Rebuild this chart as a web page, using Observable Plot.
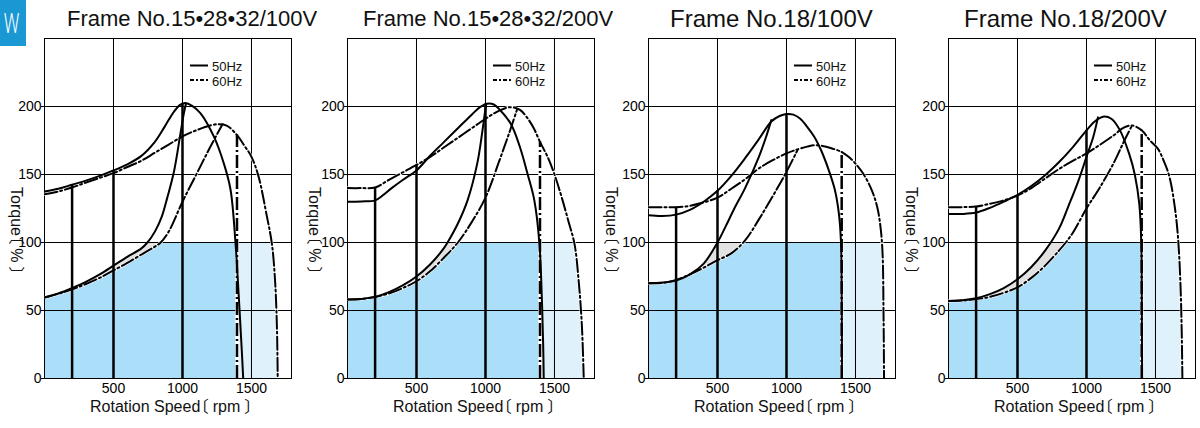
<!DOCTYPE html>
<html>
<head>
<meta charset="utf-8">
<script src="https://cdn.jsdelivr.net/npm/d3@7"></script>
<script src="https://cdn.jsdelivr.net/npm/@observablehq/plot@0.6"></script>
<style>
  html, body { margin: 0; padding: 0; background: #fff; }
  #root { position: relative; width: 1200px; height: 428px; overflow: hidden; background: #fff; }
  .panel { position: absolute; top: 0; }
  #overlay { position: absolute; left: 0; top: 0; pointer-events: none; }
  .axlabel { font-family: 'Liberation Sans', 'Noto Sans CJK JP', Arial, sans-serif; font-feature-settings: "palt" 1; }
</style>
</head>
<body>
<div id="root"></div>
<script>
// ---------- data ----------
const titles = ["Frame No.15\u202228\u202232/100V", "Frame No.15\u202228\u202232/200V", "Frame No.18/100V", "Frame No.18/200V"];
const badgeText = "W";
const xLabel = "Rotation Speed\u3014 rpm \u3015";
const yLabel = "Torque\u3014 % \u3015";
const legendLabels = ["50Hz", "60Hz"];
const xTicks = [500, 1000, 1500];
const yTicks = [0, 50, 100, 150, 200];
const gridY = [50, 100, 150, 200];
const xMax = 1790, yMax = 250, ratedTorque = 100;

// Panel 1 : Frame No.15・28・32/100V   [rpm, torque %]
const p1Up50 = [[0,137.5],[100,139.5],[200,142.5],[300,145.5],[400,149],[500,153],[600,157.5],[700,163.5],[800,174],[870,185],[930,195],[980,201],[1020,202.5],[1070,200.5],[1131,195],[1227,178],[1300,158],[1348,139],[1384,100],[1408,60],[1430,20],[1440,0]];
const p1Up60 = [[0,135.5],[100,137.5],[200,140.5],[300,144],[400,147.5],[500,151],[600,155.5],[700,160],[800,166],[900,172],[1000,178],[1100,182.5],[1200,186],[1260,187],[1320,186],[1395,179],[1450,171],[1500,163],[1550,149],[1612,119],[1648,99],[1672,70],[1685,35],[1690,0]];
const p1Lo50 = [[0,59.5],[100,62.5],[200,66.5],[300,71],[400,76.5],[500,83],[600,89.5],[700,95.5],[746,100],[800,108],[850,119],[890,133],[940,153],[985,180],[1010,195],[1025,202]];
const p1Lo60 = [[0,59.5],[100,62.3],[200,65.5],[300,69.5],[400,74],[500,79.5],[600,85],[700,91],[800,97],[842,100],[900,108],[1000,130],[1100,150],[1200,170],[1290,187]];
const p1Speeds = [200, 500, 1000, 1395];
const p1Tops = [142.5, 153, 202, 179];

// Panel 2 : Frame No.15・28・32/200V
const p2Up50 = [[0,130],[100,130.2],[200,131],[260,135],[320,140],[400,146],[500,153],[600,164],[700,174],[800,184],[900,194],[960,199.5],[1010,202],[1060,201.5],[1100,198],[1185,187],[1250,170],[1306,150],[1354,131],[1391,99],[1408,60],[1418,25],[1422,0]];
const p2Up60 = [[0,140],[100,140],[200,140.5],[300,146],[400,151.5],[500,157],[600,163],[700,170],[800,177],[900,184],[1000,191],[1100,197],[1180,199.5],[1250,197.5],[1300,192],[1350,184],[1395,174],[1450,163],[1500,150],[1550,134],[1600,116],[1645,99],[1675,72],[1698,40],[1712,0]];
const p2Lo50 = [[0,58],[100,58.5],[200,60],[300,63.5],[400,68.5],[500,75],[600,84],[700,96],[725,100],[800,114],[870,131],[940,158],[975,180],[995,195],[1005,202]];
const p2Lo60 = [[0,58],[100,58.5],[200,60],[300,62.5],[400,66.5],[500,71.5],[600,79],[700,89],[800,100],[900,115],[1000,133],[1100,160],[1170,180],[1228,197.5]];
const p2Speeds = [200, 500, 1000, 1395];
const p2Tops = [140.5, 157, 202, 174];

// Panel 3 : Frame No.18/100V
const p3Up50 = [[0,120],[100,119.5],[200,120.5],[300,124],[400,130],[500,138],[600,149],[700,162],[800,176],[890,189],[950,193],[1000,194.5],[1050,194],[1100,191],[1150,185],[1200,178],[1250,168],[1300,155],[1350,139],[1380,121],[1395,100],[1400,60],[1402,0]];
const p3Up60 = [[0,126],[100,126],[200,126],[300,127],[400,129.5],[500,133],[600,139.5],[700,146.5],[744,150],[800,154.5],[900,160.5],[1000,165.5],[1080,168.5],[1150,170.5],[1200,171.5],[1260,171],[1320,169.5],[1400,166.5],[1450,163],[1500,158],[1560,150],[1620,138],[1660,125],[1685,108],[1697,90],[1703,50],[1707,0]];
const p3Lo50 = [[0,70],[100,70.5],[200,72],[300,76.5],[400,84.5],[500,100],[560,112],[622,125],[700,140],[800,163],[850,177],[890,190]];
const p3Lo60 = [[0,70],[100,70.3],[200,72.5],[300,76.5],[400,81.5],[500,87],[600,92],[700,101.5],[800,117],[900,134],[1000,152],[1080,168]];
const p3Speeds = [200, 500, 1000, 1400];
const p3Tops = [126, 138, 194.5, 166.5];

// Panel 4 : Frame No.18/200V
const p4Up50 = [[0,121],[100,121],[200,122],[300,125.5],[400,130],[500,135],[600,141.5],[700,149.5],[800,159],[900,170],[1000,182.5],[1060,189],[1120,192.5],[1180,191],[1240,183],[1310,165],[1350,150],[1383,128],[1397,100],[1401,50],[1403,0]];
const p4Up60 = [[0,126],[100,126],[200,126.5],[300,128.5],[400,131],[500,134.5],[600,140],[700,147],[800,154],[900,160],[1000,165.5],[1100,172],[1200,179],[1270,184.5],[1330,186],[1400,182.5],[1460,175],[1517,169],[1560,160],[1602,148],[1640,126],[1663,104],[1680,72],[1690,35],[1695,0]];
const p4Lo50 = [[0,57],[100,57.5],[200,59],[300,62],[400,66.5],[500,73],[600,82],[700,94],[800,110],[870,127],[940,145],[1000,163],[1050,178],[1083,192]];
const p4Lo60 = [[0,57],[100,57.3],[200,58.5],[300,60],[400,63],[500,67],[600,74],[700,83],[800,94],[850,100],[900,107],[1000,125],[1100,141],[1200,159],[1270,174],[1330,186]];
const p4Speeds = [200, 500, 1000, 1400];
const p4Tops = [126.5, 134.5, 182.5, 182.5];

// ---------- build ----------
const panels = [
  {title: titles[0], up50: p1Up50, up60: p1Up60, lo50: p1Lo50, lo60: p1Lo60, speeds: p1Speeds, tops: p1Tops},
  {title: titles[1], up50: p2Up50, up60: p2Up60, lo50: p2Lo50, lo60: p2Lo60, speeds: p2Speeds, tops: p2Tops},
  {title: titles[2], up50: p3Up50, up60: p3Up60, lo50: p3Lo50, lo60: p3Lo60, speeds: p3Speeds, tops: p3Tops},
  {title: titles[3], up50: p4Up50, up60: p4Up60, lo50: p4Lo50, lo60: p4Lo60, speeds: p4Speeds, tops: p4Tops}
];

const FONT = "'Liberation Sans', Arial, Helvetica, sans-serif";
const darkBlue = "#abdef8", lightBlue = "#dff1fb", greyFill = "#e2e2e2";
const dashDot = "13,3,2,3";
const W = 300, H = 428, mTop = 38, mBottom = 50, mLeft = 44, plotW = 247;
const divLefts = [0, 303, 604, 904];
const titleX = [67, 363, 670, 964];
const titleSize = [22, 22, 24, 24];
const titleBase = [26, 26, 27, 27];
const yLabelX = [11, 309, 606, 906];
const X = d => d[0], Y = d => d[1];
const C = "catmull-rom";

const root = document.getElementById("root");

panels.forEach((p, i) => {
  const last = p.speeds.length - 1;
  const pk = p.up60.reduce((m, d, j) => d[1] > p.up60[m][1] ? j : m, 0);
  const desc60 = p.up60.slice(pk);
  const greyPoly = p.lo50.concat(p.lo60.slice().reverse());
  const solidIdx = d3.range(last);
  const svg = Plot.plot({
    width: W, height: H,
    marginTop: mTop, marginBottom: mBottom, marginLeft: mLeft, marginRight: W - mLeft - plotW,
    style: {fontFamily: FONT, fontSize: "14px", color: "#000", background: "transparent", overflow: "visible"},
    x: {domain: [0, xMax], ticks: xTicks, tickSize: 0, tickPadding: 5, tickFormat: d => String(d), label: null},
    y: {domain: [0, yMax], ticks: yTicks, tickSize: 3, tickPadding: 0, tickFormat: d => String(d), label: null},
    marks: [
      Plot.rect([0], {x1: 0, x2: p.speeds[last], y1: 0, y2: ratedTorque, fill: darkBlue}),
      Plot.rect([0], {x1: p.speeds[last], x2: xMax, y1: 0, y2: ratedTorque, fill: lightBlue}),
      Plot.areaY(p.lo60, {x: X, y1: Y, y2: yMax, fill: "#fff", curve: C, clip: true}),
      Plot.line(greyPoly, {x: X, y: Y, fill: greyFill, stroke: "none", curve: C, clip: true}),
      Plot.rect([0], {x1: 0, x2: xMax, y1: ratedTorque, y2: yMax, fill: "#fff"}),
      Plot.areaX(desc60, {y: Y, x1: X, x2: xMax, fill: "#fff", curve: C, clip: true}),
      Plot.ruleX(xTicks, {stroke: "#000", strokeWidth: 1}),
      Plot.ruleY(gridY, {stroke: "#000", strokeWidth: 1}),
      Plot.frame({stroke: "#000", strokeWidth: 1}),
      // 60 Hz (dash-dot) with white underlay
      Plot.line(p.up60, {x: X, y: Y, stroke: "#fff", strokeWidth: 3, curve: C, clip: true}),
      Plot.line(p.lo60, {x: X, y: Y, stroke: "#fff", strokeWidth: 3, curve: C, clip: true}),
      Plot.ruleX([last], {x: j => p.speeds[j], y1: 0, y2: j => p.tops[j], stroke: "#fff", strokeWidth: 3.5}),
      Plot.line(p.up60, {x: X, y: Y, stroke: "#000", strokeWidth: 2, strokeDasharray: dashDot, curve: C, clip: true}),
      Plot.line(p.lo60, {x: X, y: Y, stroke: "#000", strokeWidth: 2, strokeDasharray: dashDot, curve: C, clip: true}),
      Plot.ruleX([last], {x: j => p.speeds[j], y1: 0, y2: j => p.tops[j], stroke: "#000", strokeWidth: 2.5, strokeDasharray: dashDot}),
      // speed setting lines
      Plot.ruleX(solidIdx, {x: j => p.speeds[j], y1: 0, y2: j => p.tops[j], stroke: "#000", strokeWidth: 2.5}),
      // 50 Hz (solid)
      Plot.line(p.up50, {x: X, y: Y, stroke: "#000", strokeWidth: 2, curve: C, clip: true}),
      Plot.line(p.lo50, {x: X, y: Y, stroke: "#000", strokeWidth: 2, curve: C, clip: true})
    ]
  });
  svg.classList.add("panel");
  svg.style.left = divLefts[i] + "px";
  root.appendChild(svg);
});

// ---------- overlay text ----------
const ov = d3.select(root).append("svg").attr("id", "overlay").attr("width", 1200).attr("height", 428)
  .style("font-family", FONT);

ov.append("rect").attr("x", 0).attr("y", 0).attr("width", 26).attr("height", 46).attr("fill", "#1a98d4");
ov.append("text").attr("transform", "translate(11.5,33) scale(0.62,1)")
  .attr("text-anchor", "middle").attr("font-family", "Roboto, " + FONT).attr("font-weight", 300)
  .attr("font-size", 28).attr("fill", "#fff").text(badgeText);

panels.forEach((p, i) => {
  const left = divLefts[i] + mLeft;
  ov.append("text").attr("x", titleX[i]).attr("y", titleBase[i]).attr("font-size", titleSize[i]).attr("fill", "#111").text(p.title);
  ov.append("text").attr("class", "axlabel").attr("x", left + 46).attr("y", 412)
    .attr("font-size", 16).attr("fill", "#111").text(xLabel);
  ov.append("text").attr("class", "axlabel").attr("transform", `translate(${yLabelX[i]},187) rotate(90)`)
    .attr("font-size", 16).attr("fill", "#111").text(yLabel);
  // legend
  const lx = left + 146;
  ov.append("line").attr("x1", lx).attr("x2", lx + 18).attr("y1", 65.5).attr("y2", 65.5)
    .attr("stroke", "#000").attr("stroke-width", 2);
  ov.append("line").attr("x1", lx).attr("x2", lx + 18).attr("y1", 80).attr("y2", 80)
    .attr("stroke", "#000").attr("stroke-width", 2).attr("stroke-dasharray", "4,2,2,2");
  ov.append("text").attr("x", lx + 22).attr("y", 70.5).attr("font-size", 13).attr("fill", "#111").text(legendLabels[0]);
  ov.append("text").attr("x", lx + 22).attr("y", 85.5).attr("font-size", 13).attr("fill", "#111").text(legendLabels[1]);
});
</script>
</body>
</html>
